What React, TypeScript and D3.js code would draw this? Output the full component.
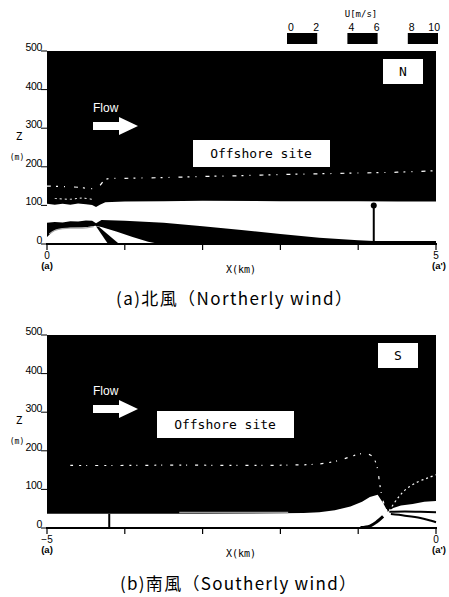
import * as d3 from 'd3';

const W = 449;
const H = 597;

const zTicks = [0, 100, 200, 300, 400, 500];
const xTicksNorth = [0, 1, 2, 3, 4, 5];
const xTicksSouth = [-5, -4, -3, -2, -1, 0];
const legendValues = [0, 2, 4, 6, 8, 10];
const legendBands: [number, number][] = [[0, 2], [4, 6], [8, 10]];

type P = [number, number]; // [x km, z m]

// northerly wind
const nWhiteTop: P[] = [[0, 104], [0.1, 102], [0.2, 104], [0.3, 102], [0.4, 105], [0.5, 103], [0.58, 101], [0.63, 96], [0.68, 102], [0.75, 108], [1, 110], [1.5, 111], [2, 112], [3, 111], [4, 111], [4.5, 110], [5, 110]];
const nBandTop: P[] = [[0, 55], [0.1, 57], [0.2, 56], [0.3, 59], [0.4, 58], [0.5, 61], [0.58, 60], [0.63, 54], [0.7, 62], [1, 60], [1.5, 55], [2, 46], [2.5, 36], [3, 26], [3.5, 16], [4, 10], [4.2, 8], [5, 8]];
const nBandBottom: P[] = [[0, 18], [0.04, 26], [0.1, 36], [0.2, 40], [0.3, 42], [0.45, 43], [0.55, 45], [0.62, 47], [0.7, 44], [0.9, 32], [1.1, 18], [1.3, 6], [1.45, 0], [5, 0]];
const nStripe: P[] = [[0.63, 46], [0.67, 44], [0.92, 1], [0.78, 1]];
const nGrayLine: P[] = [[0.03, 26], [0.1, 35], [0.2, 40], [0.35, 41], [0.5, 42], [0.6, 45]];
const nSpeckleHigh: P[] = [[0, 150], [0.2, 149], [0.4, 147], [0.6, 144], [0.68, 152], [0.75, 167], [1, 170], [1.5, 172], [2, 175], [2.5, 177], [3, 180], [3.5, 182], [4, 184], [4.5, 186], [5, 190]];
const nSpeckleLow: P[] = [[0.1, 118], [0.3, 116], [0.45, 119], [0.6, 115]];
const nSite: P = [4.2, 100];

// southerly wind
const sWhiteTop: P[] = [[-5, 37], [-4, 37], [-3, 37], [-2, 38], [-1.7, 39], [-1.5, 41], [-1.3, 46], [-1.1, 56], [-0.95, 68], [-0.85, 80], [-0.75, 86], [-0.68, 65], [-0.62, 42], [-0.55, 52], [-0.45, 58], [-0.3, 62], [-0.15, 68], [0, 70]];
const sLineA: P[] = [[-0.6, 42], [-0.4, 43], [-0.2, 42], [0, 41]];
const sLineB: P[] = [[-0.58, 36], [-0.4, 32], [-0.2, 26], [-0.05, 18], [0, 15]];
const sWedge: P[] = [[-0.97, 1], [-0.85, 5], [-0.76, 16], [-0.68, 30]];
const sGray: P[] = [[-3.3, 40], [-1.9, 40]];
const sSpeckle1: P[] = [[-4.7, 162], [-4, 162], [-3.3, 163], [-2.5, 162], [-1.9, 163], [-1.5, 166], [-1.25, 175], [-1.05, 188], [-0.92, 193], [-0.82, 186], [-0.76, 160], [-0.72, 110], [-0.68, 70], [-0.63, 44]];
const sSpeckle2: P[] = [[-0.6, 45], [-0.5, 75], [-0.4, 98], [-0.25, 118], [-0.1, 130], [0, 138]];
const sSite: P = [-4.2, 37];

const mono = "'DejaVu Sans Mono', monospace";
const sans = "'Liberation Sans', Arial, sans-serif";
const cjk = "'Noto Sans CJK JP', sans-serif";

type PanelProps = {
  top: number;
  bottom: number;
  xDomain: [number, number];
  xTicks: number[];
  label: string;
  siteBox: [number, number];
  flowY: number;
  tagBox: [number, number];
  children: (x: d3.ScaleLinear<number, number>, y: d3.ScaleLinear<number, number>) => JSX.Element;
};

const Panel = ({ top, bottom, xDomain, xTicks, label, siteBox, flowY, tagBox, children }: PanelProps) => {
  const x = d3.scaleLinear().domain(xDomain).range([47, 436]);
  const y = d3.scaleLinear().domain([0, 500]).range([bottom, top]);
  return (
    <g>
      <rect x={47} y={top} width={389} height={bottom - top} fill="#000" />
      {children(x, y)}
      {/* ground / x axis */}
      <line x1={46} x2={437} y1={bottom} y2={bottom} stroke="#000" strokeWidth={2} />
      {xTicks.map((t) => (
        <line key={t} x1={x(t)} x2={x(t)} y1={bottom} y2={bottom + 6} stroke="#000" strokeWidth={1.2} />
      ))}
      {[xDomain[0], xDomain[1]].map((t, i) => (
        <g key={t} fontFamily={sans} fontSize={10} textAnchor="middle">
          <text x={x(t)} y={bottom + 15}>{t < 0 ? '−' + Math.abs(t) : t}</text>
          <text x={x(t) + (i ? 3 : 0)} y={bottom + 25} fontWeight="bold" fontSize={9.5}>{i ? "(a')" : '(a)'}</text>
        </g>
      ))}
      <text x={241} y={bottom + 29} fontFamily={mono} fontSize={10} textAnchor="middle">X(km)</text>
      {/* z axis */}
      {zTicks.map((t) => (
        <g key={t}>
          <line x1={41} x2={47} y1={y(t)} y2={y(t)} stroke="#000" strokeWidth={1} />
          <text x={42} y={y(t)} fontFamily={sans} fontSize={10.5} textAnchor="end" letterSpacing={-0.3}>{t}</text>
        </g>
      ))}
      <text x={19} y={y(270)} fontFamily={mono} fontSize={11} textAnchor="middle">Z</text>
      <text x={17} y={y(218)} fontFamily={mono} fontSize={8} textAnchor="middle">(m)</text>
      {/* annotations */}
      <text x={93} y={flowY - 14} fill="#fff" fontFamily={sans} fontSize={12}>Flow</text>
      <polygon
        points={`93,${flowY - 4} 119,${flowY - 4} 119,${flowY - 9} 138,${flowY} 119,${flowY + 9} 119,${flowY + 4} 93,${flowY + 4}`}
        fill="#fff"
      />
      <rect x={siteBox[0]} y={siteBox[1]} width={137} height={27} fill="#fff" />
      <text x={siteBox[0] + 68} y={siteBox[1] + 18} fontFamily={mono} fontSize={13} textAnchor="middle">Offshore site</text>
      <rect x={tagBox[0]} y={tagBox[1]} width={40} height={25} fill="#fff" />
      <text x={tagBox[0] + 20} y={tagBox[1] + 17} fontFamily={mono} fontSize={13} textAnchor="middle">{label}</text>
    </g>
  );
};

export default function App() {
  const lx = d3.scaleLinear().domain([0, 10]).range([287, 438]);
  const area = (xs: d3.ScaleLinear<number, number>, ys: d3.ScaleLinear<number, number>, upper: P[], lower: P[]) =>
    d3.line<P>().x((d) => xs(d[0])).y((d) => ys(d[1]))([...upper, ...lower.slice().reverse()]) + 'Z';
  const line = (xs: d3.ScaleLinear<number, number>, ys: d3.ScaleLinear<number, number>, pts: P[]) =>
    d3.line<P>().x((d) => xs(d[0])).y((d) => ys(d[1])).curve(d3.curveMonotoneX)(pts) ?? '';
  const curveLine = (xs: d3.ScaleLinear<number, number>, ys: d3.ScaleLinear<number, number>, pts: P[]) =>
    d3.line<P>().x((d) => xs(d[0])).y((d) => ys(d[1])).curve(d3.curveCatmullRom)(pts) ?? '';

  return (
    <div style={{ position: 'absolute', left: 0, top: 0 }}>
      <svg width={W} height={H} style={{ display: 'block', background: '#fff' }}>
        {/* legend */}
        <text x={361} y={17} fontFamily={mono} fontSize={9} textAnchor="middle">U[m/s]</text>
        {legendValues.map((v) => (
          <text key={v} x={lx(v)} y={31} fontFamily={sans} fontSize={10.5} textAnchor={v === 0 || v === 4 || v === 8 ? 'start' : 'end'} dx={v === 0 || v === 4 || v === 8 ? 1 : 2}>{v}</text>
        ))}
        {legendBands.map(([a, b]) => (
          <rect key={a} x={lx(a)} y={33} width={lx(b) - lx(a)} height={11} fill="#000" />
        ))}

        <Panel top={51} bottom={244} xDomain={[0, 5]} xTicks={xTicksNorth} label="N" siteBox={[193, 140]} flowY={126} tagBox={[383, 59]}>
          {(x, y) => (
            <g>
              <path d={area(x, y, nWhiteTop, [[0, 0], [5, 0]])} fill="#fff" />
              <path d={area(x, y, nBandTop, nBandBottom)} fill="#000" />
              <path d={d3.line<P>().x((d) => x(d[0])).y((d) => y(d[1]))(nStripe) + 'Z'} fill="#000" />
              <path d={curveLine(x, y, nGrayLine)} fill="none" stroke="#aaa" strokeWidth={1.3} />
              <path d={curveLine(x, y, nSpeckleHigh)} fill="none" stroke="#fff" strokeWidth={1.2} strokeDasharray="4 5 2 6 1 9" />
              <path d={curveLine(x, y, nSpeckleLow)} fill="none" stroke="#fff" strokeWidth={1} strokeDasharray="2 3" />
              <line x1={x(nSite[0])} x2={x(nSite[0])} y1={y(0)} y2={y(nSite[1])} stroke="#000" strokeWidth={2} />
              <circle cx={x(nSite[0])} cy={y(nSite[1])} r={3} fill="#000" />
            </g>
          )}
        </Panel>

        <text x={234} y={305} fontFamily={cjk} fontSize={17} textAnchor="middle" textLength={236} lengthAdjust="spacing">(a)北風（Northerly wind）</text>

        <Panel top={335} bottom={528} xDomain={[-5, 0]} xTicks={xTicksSouth} label="S" siteBox={[157, 411]} flowY={409} tagBox={[378, 343]}>
          {(x, y) => (
            <g>
              <path d={area(x, y, sWhiteTop, [[-5, 0], [0, 0]])} fill="#fff" />
              <path d={line(x, y, sLineA)} fill="none" stroke="#000" strokeWidth={2} />
              <path d={curveLine(x, y, sLineB)} fill="none" stroke="#000" strokeWidth={2} />
              <path d={curveLine(x, y, sWedge)} fill="none" stroke="#000" strokeWidth={3} />
              <path d={line(x, y, sGray)} fill="none" stroke="#999" strokeWidth={1.5} />
              <path d={curveLine(x, y, sSpeckle1)} fill="none" stroke="#fff" strokeWidth={1.2} strokeDasharray="3 6 2 5 1 8" />
              <path d={curveLine(x, y, sSpeckle2)} fill="none" stroke="#fff" strokeWidth={1.2} strokeDasharray="2 3" />
              <line x1={x(sSite[0])} x2={x(sSite[0])} y1={y(0)} y2={y(sSite[1])} stroke="#000" strokeWidth={2} />
            </g>
          )}
        </Panel>

        <text x={238} y={590} fontFamily={cjk} fontSize={17} textAnchor="middle" textLength={236} lengthAdjust="spacing">(b)南風（Southerly wind）</text>
      </svg>
    </div>
  );
}
